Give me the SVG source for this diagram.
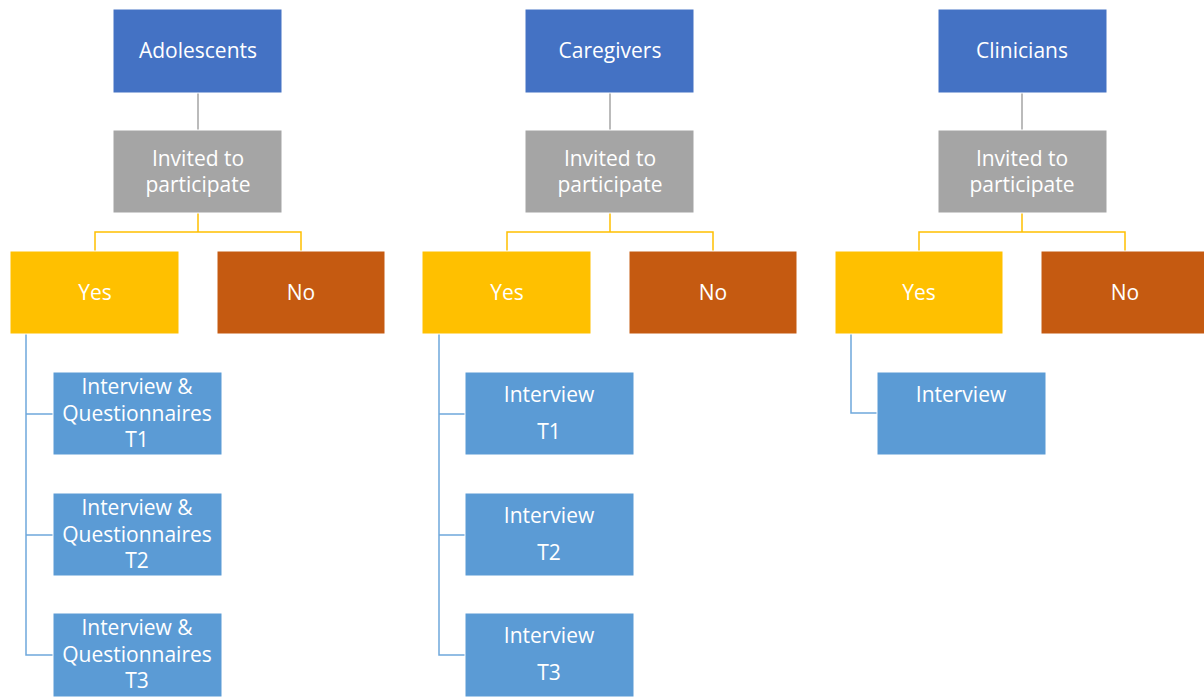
<svg xmlns="http://www.w3.org/2000/svg" width="1204" height="697" viewBox="0 0 1204 697">
<style>
.n rect{stroke:#ffffff;stroke-width:1}
.top{fill:#4472C4}.inv{fill:#A5A5A5}.yes{fill:#FFC000}.no{fill:#C55A11}.ch{fill:#5B9BD5}
text{font-family:"Open Sans","Liberation Sans",sans-serif;font-size:21px;fill:#ffffff;text-anchor:middle}
.gl{stroke:#A5A5A5;stroke-width:1.5;fill:none}
.yl{stroke:#FFC000;stroke-width:1.5;fill:none}
.bl{stroke:#6FA8DC;stroke-width:1.5;fill:none}
</style>
<rect width="1204" height="697" fill="#ffffff"/>
<g id="connectors">
<line class="gl" x1="198" y1="93" x2="198" y2="130"/>
<line class="gl" x1="610" y1="93" x2="610" y2="130"/>
<line class="gl" x1="1022" y1="93" x2="1022" y2="130"/>
<path class="yl" d="M198 213V232M95 251V232H301V251"/>
<path class="yl" d="M610 213V232M507 251V232H713V251"/>
<path class="yl" d="M1022 213V232M919 251V232H1125V251"/>
<path class="bl" d="M26 334V655H53M26 414H53M26 535H53"/>
<path class="bl" d="M439 334V655H465M439 414H465M439 535H465"/>
<path class="bl" d="M851 334V413H877"/>
</g>
<g id="adolescents" class="n"><rect class="top" x="113" y="9" width="169" height="84"/><text x="198" y="58">Adolescents</text></g>
<g id="caregivers" class="n"><rect class="top" x="525" y="9" width="169" height="84"/><text x="610" y="58">Caregivers</text></g>
<g id="clinicians" class="n"><rect class="top" x="938" y="9" width="169" height="84"/><text x="1022" y="58">Clinicians</text></g>
<g id="invited-a" class="n"><rect class="inv" x="113" y="130" width="169" height="83"/><text x="198" y="166">Invited to</text><text x="198" y="192">participate</text></g>
<g id="invited-c" class="n"><rect class="inv" x="525" y="130" width="169" height="83"/><text x="610" y="166">Invited to</text><text x="610" y="192">participate</text></g>
<g id="invited-cl" class="n"><rect class="inv" x="938" y="130" width="169" height="83"/><text x="1022" y="166">Invited to</text><text x="1022" y="192">participate</text></g>
<g id="yes-a" class="n"><rect class="yes" x="10" y="251" width="169" height="83"/><text x="95" y="300">Yes</text></g>
<g id="no-a" class="n"><rect class="no" x="217" y="251" width="168" height="83"/><text x="301" y="300">No</text></g>
<g id="yes-c" class="n"><rect class="yes" x="422" y="251" width="169" height="83"/><text x="507" y="300">Yes</text></g>
<g id="no-c" class="n"><rect class="no" x="629" y="251" width="168" height="83"/><text x="713" y="300">No</text></g>
<g id="yes-cl" class="n"><rect class="yes" x="835" y="251" width="168" height="83"/><text x="919" y="300">Yes</text></g>
<g id="no-cl" class="n"><rect class="no" x="1041" y="251" width="168" height="83"/><text x="1125" y="300">No</text></g>
<g id="a-t1" class="n"><rect class="ch" x="53" y="372" width="169" height="83"/><text x="137" y="394">Interview &amp;</text><text x="137" y="421">Questionnaires</text><text x="137" y="447">T1</text></g>
<g id="a-t2" class="n"><rect class="ch" x="53" y="493" width="169" height="83"/><text x="137" y="515">Interview &amp;</text><text x="137" y="542">Questionnaires</text><text x="137" y="568">T2</text></g>
<g id="a-t3" class="n"><rect class="ch" x="53" y="613" width="169" height="84"/><text x="137" y="635">Interview &amp;</text><text x="137" y="662">Questionnaires</text><text x="137" y="688">T3</text></g>
<g id="c-t1" class="n"><rect class="ch" x="465" y="372" width="169" height="83"/><text x="549" y="402">Interview</text><text x="549" y="439">T1</text></g>
<g id="c-t2" class="n"><rect class="ch" x="465" y="493" width="169" height="83"/><text x="549" y="523">Interview</text><text x="549" y="560">T2</text></g>
<g id="c-t3" class="n"><rect class="ch" x="465" y="613" width="169" height="84"/><text x="549" y="643">Interview</text><text x="549" y="680">T3</text></g>
<g id="cl-int" class="n"><rect class="ch" x="877" y="372" width="169" height="83"/><text x="961" y="402">Interview</text></g>
</svg>
